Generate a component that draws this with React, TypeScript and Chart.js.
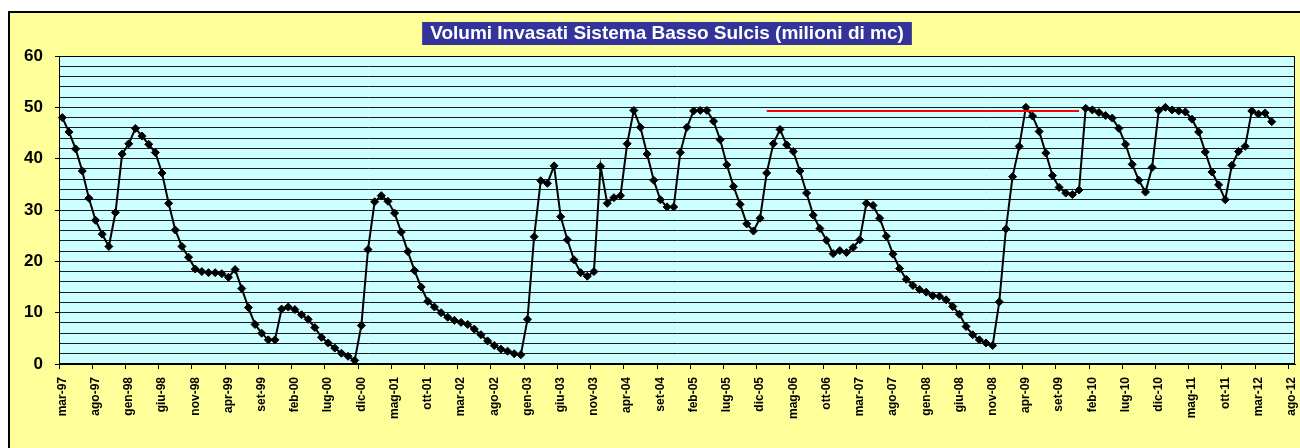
import React, { useEffect, useRef } from 'react';
import { Chart, registerables } from 'chart.js';

Chart.register(...registerables);

const chartTitle = 'Volumi Invasati Sistema Basso Sulcis (milioni di mc)';

const monthNames = ['gen', 'feb', 'mar', 'apr', 'mag', 'giu', 'lug', 'ago', 'set', 'ott', 'nov', 'dic'];
const startYear = 1997;
const startMonthIndex = 2; // mar
const categoryCount = 186; // mar-97 .. ago-12

const categories: string[] = [];
for (let k = 0; k < categoryCount; k++) {
  const m = (startMonthIndex + k) % 12;
  const y = startYear + Math.floor((startMonthIndex + k) / 12);
  categories.push(`${monthNames[m]}-${String(y % 100).padStart(2, '0')}`);
}

// monthly stored volume (milioni di mc), mar-97 .. mag-12
const volumes: (number | null)[] = [
  48.0, 45.2, 41.9, 37.6, 32.3, 28.0, 25.3, 22.9, 29.5, 40.9,
  42.9, 45.9, 44.4, 42.8, 41.2, 37.2, 31.3, 26.1, 22.9, 20.8,
  18.5, 18.0, 17.8, 17.8, 17.6, 16.9, 18.4, 14.7, 11.0, 7.7,
  6.0, 4.7, 4.7, 10.7, 11.1, 10.6, 9.6, 8.7, 7.1, 5.2,
  4.1, 3.1, 2.1, 1.5, 0.7, 7.5, 22.3, 31.6, 32.8, 31.7,
  29.4, 25.7, 21.9, 18.2, 15.0, 12.2, 11.1, 10.0, 9.1, 8.5,
  8.1, 7.7, 6.8, 5.7, 4.5, 3.6, 2.9, 2.5, 2.0, 1.8,
  8.7, 24.8, 35.7, 35.2, 38.6, 28.7, 24.2, 20.3, 17.8, 17.1,
  18.0, 38.5, 31.3, 32.4, 32.8, 42.9, 49.4, 46.1, 40.9, 35.8,
  32.0, 30.6, 30.6, 41.2, 46.1, 49.3, 49.4, 49.4, 47.3, 43.7,
  38.8, 34.6, 31.1, 27.3, 25.9, 28.4, 37.2, 42.9, 45.7, 42.7,
  41.4, 37.6, 33.3, 29.0, 26.4, 24.1, 21.5, 22.1, 21.7, 22.7,
  24.2, 31.3, 30.9, 28.4, 24.9, 21.4, 18.6, 16.5, 15.3, 14.5,
  14.0, 13.3, 13.2, 12.5, 11.2, 9.7, 7.3, 5.7, 4.7, 4.1,
  3.6, 12.1, 26.3, 36.5, 42.4, 50.0, 48.3, 45.3, 41.1, 36.7,
  34.4, 33.3, 33.0, 33.9, 49.8, 49.5, 49.0, 48.4, 47.9, 45.9,
  42.8, 38.9, 35.8, 33.5, 38.3, 49.4, 50.0, 49.5, 49.3, 49.1,
  47.7, 45.2, 41.3, 37.4, 34.9, 32.0, 38.7, 41.4, 42.4, 49.3,
  48.7, 48.9, 47.2, null, null, null,
];

// red reference line
const refLevel = 49.3;
const refStart = 'gen-06';
const refEnd = 'dic-09';

const yTickLabels = [0, 10, 20, 30, 40, 50, 60];

const FONT = '"Liberation Sans", Arial, Helvetica, sans-serif';

const framePlugin = {
  id: 'frame',
  beforeDraw(chart: any) {
    const { ctx, chartArea: a } = chart;
    ctx.save();
    ctx.fillStyle = '#ffffff';
    ctx.fillRect(0, 0, chart.width, chart.height);
    ctx.fillStyle = '#FFFF99';
    ctx.fillRect(8, 11, chart.width - 8, chart.height - 11);
    ctx.strokeStyle = '#000000';
    ctx.lineWidth = 2;
    ctx.beginPath();
    ctx.moveTo(9, chart.height + 2);
    ctx.lineTo(9, 12);
    ctx.lineTo(chart.width + 2, 12);
    ctx.stroke();
    ctx.fillStyle = '#CCFFFF';
    ctx.fillRect(a.left, a.top, a.right - a.left, a.bottom - a.top);
    ctx.restore();
  },
  afterDraw(chart: any) {
    const { ctx, chartArea: a } = chart;
    ctx.save();
    ctx.strokeStyle = '#000000';
    ctx.lineWidth = 1;
    ctx.strokeRect(Math.round(a.left) + 0.5, Math.round(a.top) + 0.5, Math.round(a.right - a.left) - 1, Math.round(a.bottom - a.top) - 1);
    // title box
    ctx.font = `bold 19px ${FONT}`;
    const w = ctx.measureText(chartTitle).width;
    const cx = 667;
    const boxW = w + 16;
    ctx.fillStyle = '#333399';
    ctx.fillRect(cx - boxW / 2, 22, boxW, 23);
    ctx.fillStyle = '#ffffff';
    ctx.textAlign = 'center';
    ctx.textBaseline = 'middle';
    ctx.fillText(chartTitle, cx, 34);
    ctx.restore();
  },
};

export default function App() {
  const ref = useRef<HTMLCanvasElement | null>(null);

  useEffect(() => {
    document.body.style.overflow = 'hidden';
    const s = categories.indexOf(refStart);
    const e = categories.indexOf(refEnd);
    const refData = categories.map((_, i) => (i >= s && i <= e ? refLevel : null));

    const chart = new Chart(ref.current as HTMLCanvasElement, {
      type: 'line',
      data: {
        labels: categories,
        datasets: [
          {
            label: 'riferimento',
            data: refData,
            borderColor: '#FF0000',
            borderWidth: 2,
            pointRadius: 0,
            fill: false,
            spanGaps: false,
          },
          {
            label: 'Volumi invasati',
            data: volumes,
            borderColor: '#000000',
            borderWidth: 2,
            pointStyle: 'rectRot',
            pointRadius: 4,
            pointBackgroundColor: '#000000',
            pointBorderColor: '#000000',
            pointBorderWidth: 1,
            fill: false,
            tension: 0,
            spanGaps: false,
          },
        ],
      },
      options: {
        animation: false,
        responsive: true,
        maintainAspectRatio: false,
        layout: { padding: { left: 10, top: 56, right: 3, bottom: 0 } },
        plugins: {
          legend: { display: false },
          title: { display: false },
          tooltip: { enabled: false },
        },
        scales: {
          x: {
            type: 'category',
            offset: true,
            afterFit(scale: any) {
              scale.height = 84;
              scale.paddingLeft = 0;
              scale.paddingRight = 0;
            },
            grid: {
              offset: true,
              drawOnChartArea: false,
              drawTicks: true,
              tickLength: 5,
              color: (c: any) => (c.index % 5 === 0 ? '#000000' : 'rgba(0,0,0,0)'),
              tickColor: (c: any) => (c.index % 5 === 0 ? '#000000' : 'rgba(0,0,0,0)'),
            },
            border: { display: true, color: '#000000', width: 1 },
            ticks: {
              autoSkip: false,
              minRotation: 90,
              maxRotation: 90,
              padding: 8,
              color: '#000000',
              font: { family: FONT, size: 12, weight: 'bold' },
              callback: (_v: any, i: number) => (i % 5 === 0 ? categories[i] : ''),
            },
          },
          y: {
            min: 0,
            max: 60,
            afterFit(scale: any) {
              scale.width = 49;
              scale.paddingTop = 0;
              scale.paddingBottom = 0;
            },
            grid: {
              color: '#1a1a1a',
              lineWidth: 1,
              tickLength: 4,
              tickColor: (c: any) => (c.tick && yTickLabels.includes(c.tick.value) ? '#000000' : 'rgba(0,0,0,0)'),
            },
            border: { display: true, color: '#000000', width: 1 },
            ticks: {
              stepSize: 2,
              autoSkip: false,
              maxTicksLimit: 40,
              padding: 12,
              color: '#000000',
              font: { family: FONT, size: 17, weight: 'bold' },
              callback: (v: any) => (yTickLabels.includes(Number(v)) ? String(v) : ''),
            },
          },
        },
      },
      plugins: [framePlugin],
    });
    return () => chart.destroy();
  }, []);

  return (
    <div style={{ position: 'fixed', left: 0, top: 0, width: 1300, height: 448 }}>
      <canvas ref={ref} />
    </div>
  );
}
